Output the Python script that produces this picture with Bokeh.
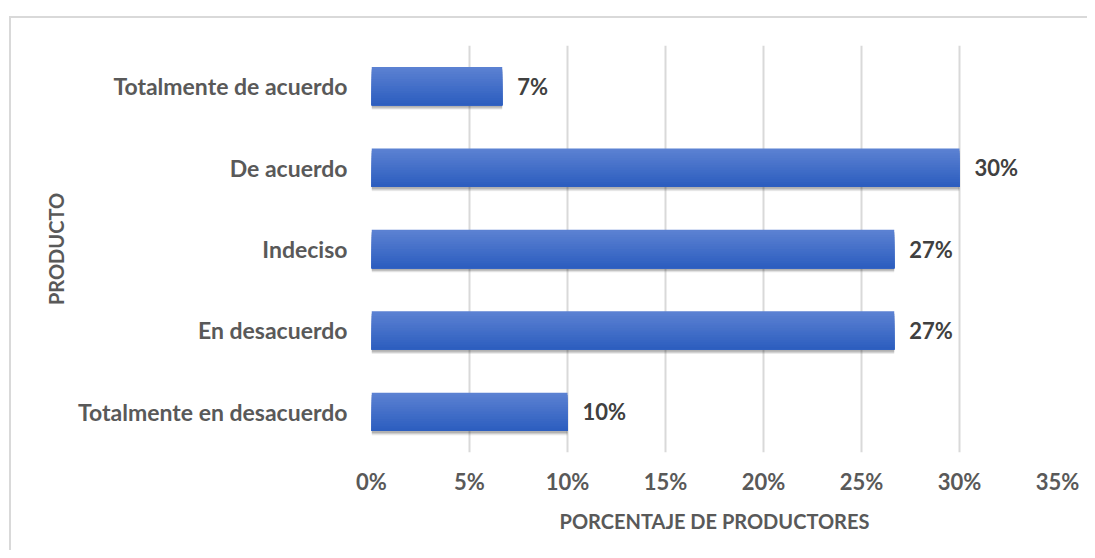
from bokeh.plotting import figure
from bokeh.models import (ColumnDataSource, LabelSet, NumeralTickFormatter, FactorRange,
                          Range1d, FixedTicker, InlineStyleSheet)
from bokeh.transform import dodge
from bokeh.core.properties import value
from bokeh.embed import file_html
from bokeh.resources import INLINE

# ---- data ----
categories = ["Totalmente en desacuerdo", "En desacuerdo", "Indeciso", "De acuerdo", "Totalmente de acuerdo"]
values = [0.10, 0.2667, 0.2667, 0.30, 0.0667]
value_labels = ["10%", "27%", "27%", "30%", "7%"]
x_ticks = [0, 0.05, 0.10, 0.15, 0.20, 0.25, 0.30, 0.35]

FONT = "Lato"
TXT = "#595959"

src = ColumnDataSource(dict(cat=categories, val=values, lab=value_labels))

p = figure(width=1087, height=550, output_backend="svg", toolbar_location=None,
           y_range=FactorRange(factors=categories), x_range=Range1d(0, 0.35),
           min_border_left=371, min_border_right=30, min_border_top=45, min_border_bottom=98)
p.background_fill_color = "white"
p.border_fill_color = "white"
p.outline_line_color = None

# grid
p.ygrid.grid_line_color = None
p.xgrid.grid_line_color = "#d9d9d9"
p.xgrid.grid_line_width = 2
p.xaxis.ticker = FixedTicker(ticks=x_ticks)
p.xaxis.formatter = NumeralTickFormatter(format="0%")

for ax in (p.xaxis, p.yaxis):
    ax.axis_line_color = None
    ax.major_tick_line_color = None
    ax.minor_tick_line_color = None
    ax.major_tick_out = 0
    ax.major_tick_in = 0
    ax.minor_tick_out = 0
    ax.major_label_text_font = FONT
    ax.major_label_text_font_style = "bold"
    ax.major_label_text_color = TXT
    ax.major_label_text_font_size = "22px"
    ax.axis_label_text_font = FONT
    ax.axis_label_text_font_style = "bold"
    ax.axis_label_text_color = TXT
    ax.axis_label_text_font_size = "20px"

p.yaxis.major_label_text_font_size = "23px"
p.xaxis.major_label_standoff = 15
p.xaxis.axis_label = "PORCENTAJE DE PRODUCTORES"
p.xaxis.axis_label_standoff = 11
p.yaxis.major_label_standoff = 24
p.yaxis.axis_label = "PRODUCTO"
p.yaxis.axis_label_standoff = 7

BAR_H = 0.47
# soft shadow layers below the bars
for off, a in [(-0.055, 0.06), (-0.045, 0.08), (-0.035, 0.10), (-0.025, 0.10)]:
    p.hbar(y=dodge("cat", off, range=p.y_range), right="val", left=0, height=BAR_H,
           source=src, fill_color="black", fill_alpha=a, line_color=None)

# vertical gradient: nested bars anchored at the bar bottom, darker as they shrink
N = 16
top_rgb = (0x5b, 0x81, 0xd2)
bot_rgb = (0x2d, 0x5e, 0xbf)
for i in range(N):
    t = i / (N - 1)
    c = tuple(int(round(top_rgb[k] + (bot_rgb[k] - top_rgb[k]) * t)) for k in range(3))
    col = "#%02x%02x%02x" % c
    h = BAR_H * (1 - i / N)
    off = -BAR_H / 2 + h / 2
    p.hbar(y=dodge("cat", off, range=p.y_range), right="val", left=0, height=h,
           source=src, fill_color=col, line_color=None)

labels = LabelSet(x="val", y="cat", text="lab", source=src, x_offset=15, y_offset=0,
                  text_font=value(FONT), text_font_style="bold", text_font_size="22px",
                  text_color="#404040", text_baseline="middle", text_align="left")
p.add_layout(labels)

css = """
:host { position: relative; }
:host::after { content: ''; position: absolute; left: 9px; top: 16px; right: 0; bottom: 0;
  border-left: 2px solid #d9d9d9; border-top: 2px solid #d9d9d9; pointer-events: none; }
"""
p.stylesheets = [InlineStyleSheet(css=css)]

open("out.html", "w").write(file_html(p, INLINE))
